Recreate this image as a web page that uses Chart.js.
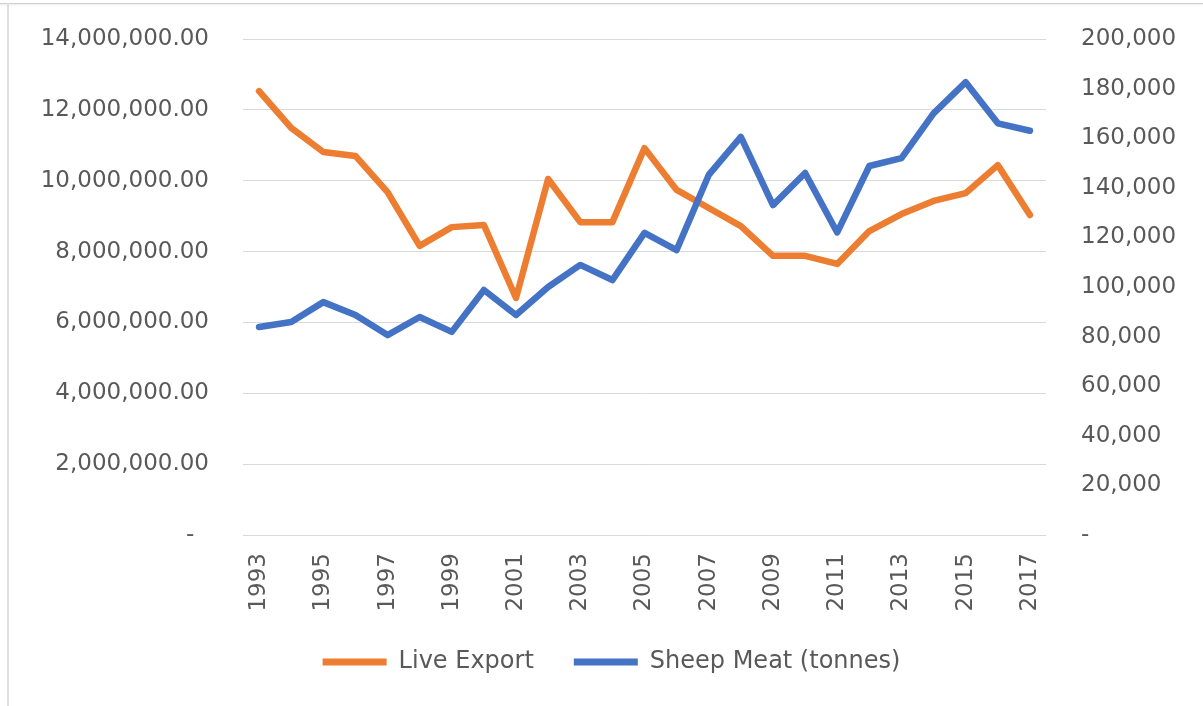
<!DOCTYPE html>
<html>
<head>
<meta charset="utf-8">
<title>Live Export and Sheep Meat</title>
<script src="https://cdn.jsdelivr.net/npm/chart.js@4"></script>
<style>
  html, body { margin: 0; padding: 0; background: #fff; }
  #wrap { position: relative; width: 1203px; height: 706px; overflow: hidden; background: #fff; }
  #frameTop { position: absolute; left: 0; top: 3px; width: 1203px; height: 1px; background: #cfcfcf; box-shadow: 0 1px 2px rgba(0,0,0,0.12); }
  #frameLeft { position: absolute; left: 7px; top: 3px; width: 2px; height: 703px; background: #dedede; }
  canvas { position: absolute; left: 0; top: 0; }
</style>
</head>
<body>
<div id="wrap">
  <canvas id="sheepChart" width="1203" height="706"></canvas>
  <div id="frameTop"></div>
  <div id="frameLeft"></div>
</div>
<script>
// yearly figures
const years = ['1993', '1994', '1995', '1996', '1997', '1998', '1999', '2000', '2001', '2002',
               '2003', '2004', '2005', '2006', '2007', '2008', '2009', '2010', '2011', '2012',
               '2013', '2014', '2015', '2016', '2017'];

// live sheep exported (head)
const liveExport = [12530000, 11490000, 10810000, 10700000, 9680000, 8160000, 8690000, 8750000, 6690000, 10050000,
                    8830000, 8830000, 10920000, 9740000, 9230000, 8720000, 7880000, 7880000, 7650000, 8580000,
                    9060000, 9430000, 9650000, 10440000, 9030000];

// sheep meat exported (tonnes)
const sheepMeat = [83900, 85900, 93900, 88700, 80600, 87900, 81900, 98800, 88700, 100000,
                   108900, 102800, 121800, 114900, 145200, 160500, 133000, 146000, 122000, 148800,
                   152000, 170000, 182600, 166000, 163000];

const leftTicks = { min: 0, max: 14000000, step: 2000000 };
const rightTicks = { min: 0, max: 200000, step: 20000 };

const textColor = '#595959';
const axisFont = { family: 'DejaVu Sans', size: 23 };
const legendFont = { family: 'DejaVu Sans', size: 24 };

// fixed axis width; the large tick padding should not push the plot down
function sizeValueAxis(width) {
  return scale => {
    scale.width = width;
    scale.paddingTop = 0;
    scale.paddingBottom = 0;
  };
}

const ctx = document.getElementById('sheepChart').getContext('2d');

new Chart(ctx, {
  type: 'line',
  data: {
    labels: years,
    datasets: [
      {
        label: 'Live Export',
        data: liveExport,
        borderColor: '#ED7D31',
        backgroundColor: '#ED7D31',
        yAxisID: 'y',
        order: 1
      },
      {
        label: 'Sheep Meat (tonnes)',
        data: sheepMeat,
        borderColor: '#4472C4',
        backgroundColor: '#4472C4',
        yAxisID: 'y1',
        order: 0
      }
    ]
  },
  options: {
    responsive: false,
    animation: false,
    layout: { padding: { left: 20, right: 0, top: 39, bottom: 22 } },
    elements: {
      line: { borderWidth: 6.5, tension: 0, borderCapStyle: 'round', borderJoinStyle: 'round' },
      point: { radius: 0, hoverRadius: 0 }
    },
    plugins: {
      tooltip: { enabled: false },
      legend: {
        position: 'bottom',
        labels: {
          color: textColor,
          font: legendFont,
          boxWidth: 64,
          boxHeight: 7,
          padding: 40,
          sort: (a, b) => a.datasetIndex - b.datasetIndex,
          generateLabels: chart =>
            Chart.defaults.plugins.legend.labels.generateLabels(chart).map(item => ({ ...item, lineWidth: 0 }))
        }
      }
    },
    scales: {
      x: {
        offset: true,
        grid: { display: false, drawTicks: false },
        border: { display: false },
        ticks: {
          color: textColor,
          font: axisFont,
          autoSkip: false,
          minRotation: 90,
          maxRotation: 90,
          padding: 18,
          callback: function (value, index) {
            return index % 2 === 0 ? this.getLabelForValue(value) : '';
          }
        },
        afterFit: scale => { scale.height = 75; }
      },
      y: {
        position: 'left',
        min: leftTicks.min,
        max: leftTicks.max,
        grid: { color: '#d9d9d9', lineWidth: 1, drawTicks: false },
        border: { display: false },
        ticks: {
          stepSize: leftTicks.step,
          color: textColor,
          font: axisFont,
          padding: 34,
          callback: value => value === 0
            ? '-  '
            : value.toLocaleString('en-US', { minimumFractionDigits: 2, maximumFractionDigits: 2 })
        },
        afterFit: sizeValueAxis(223)
      },
      y1: {
        position: 'right',
        min: rightTicks.min,
        max: rightTicks.max,
        grid: { display: false, drawTicks: false },
        border: { display: false },
        ticks: {
          stepSize: rightTicks.step,
          color: textColor,
          font: axisFont,
          padding: 35,
          callback: value => value === 0 ? '-' : value.toLocaleString('en-US')
        },
        afterFit: sizeValueAxis(157)
      }
    }
  }
});
</script>
</body>
</html>
